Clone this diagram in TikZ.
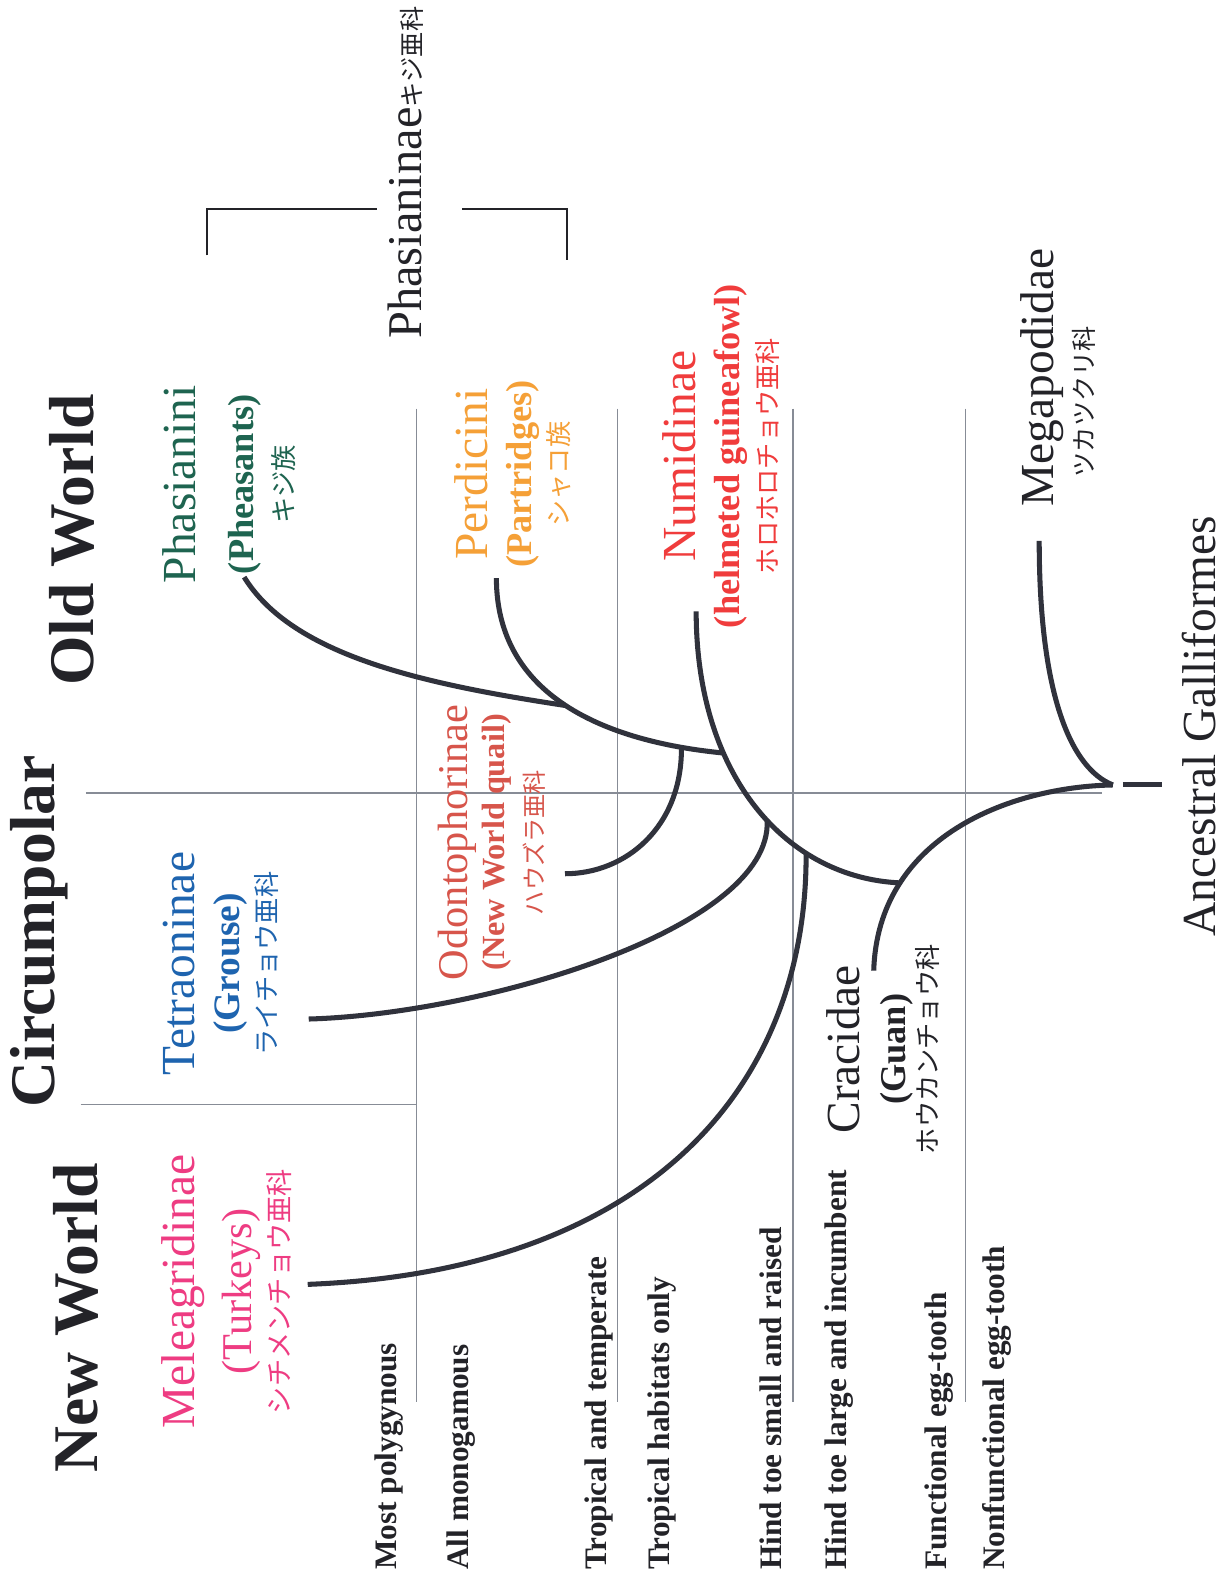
\documentclass[tikz,border=0pt]{standalone}
\usepackage{fontspec}
\setmainfont{Liberation Serif}
\newfontfamily\jp{Noto Sans CJK JP}
\usepackage{tikz}
\usetikzlibrary{positioning}
\definecolor{GalInk}{RGB}{35, 35, 40}
\definecolor{GalBranch}{RGB}{48, 50, 60}
\definecolor{GalGrid}{RGB}{135, 140, 150}
\definecolor{GalPheasant}{RGB}{30, 100, 80}
\definecolor{GalPartridge}{RGB}{245, 160, 55}
\definecolor{GalGuinea}{RGB}{240, 60, 60}
\definecolor{GalQuail}{RGB}{215, 85, 75}
\definecolor{GalGrouse}{RGB}{30, 100, 175}
\definecolor{GalTurkey}{RGB}{238, 60, 130}

\tikzset{
  branch/.style={GalBranch, line width=5pt},
  gridline/.style={GalGrid, line width=1.4pt},
  bracket/.style={GalInk, line width=1.4pt},
  heading/.style={rotate=90, anchor=base, inner sep=0pt, text=GalInk,
    font=\fontsize{63}{63}\selectfont\bfseries},
  % lines are smashed: north = first baseline, gap = 12pt + extra
  taxon/.style={rotate=90, anchor=north, align=center, inner sep=0pt,
    font=\fontsize{10}{12}\selectfont},
  single/.style={rotate=90, anchor=base, inner sep=0pt, text=GalInk,
    font=\fontsize{47}{47}\selectfont},
  trait/.style={rotate=90, anchor=base west, inner sep=0pt, text=GalInk,
    font=\fontsize{31}{31}\selectfont\bfseries}
}

\begin{document}
\begin{tikzpicture}[x=1pt,y=-1pt]
  \path[use as bounding box] (0,0) rectangle (1214,1568);
  \fill[white] (0,0) rectangle (1214,1568);

  % grid of traits and regions
  \draw[gridline] (85,786) -- (1092,786);
  \draw[gridline] (80,1095) -- (413,1095);
  \foreach \x in {413,612,786,957}{
    \draw[gridline] (\x,405) -- (\x,1390);
  }

  % Phasianinae bracket
  \draw[bracket] (205,253) -- (205,207) -- (374,207);
  \draw[bracket] (458,207) -- (562,207) -- (562,258);
  \node[rotate=90, anchor=base west, inner sep=0pt, text=GalInk] (phasianinae) at (418,336)
    {\fontsize{48}{48}\selectfont Phasianinae{\jp\fontsize{25}{25}\selectfont キジ亜科}};

  % regions
  \node[heading] (newWorld) at (97,1306) {New World};
  \node[heading] (circumpolar) at (54,923) {Circumpolar};
  \node[heading] (oldWorld) at (93,535) {Old World};

  % taxa
  \node[taxon, text=GalPheasant] (phasianini) at (194,480) {\smash{\fontsize{47}{47}\selectfont Phasianini}\\[45pt]\smash{\fontsize{36}{36}\selectfont\bfseries (Pheasants)}\\[28pt]\smash{\jp\fontsize{26}{26}\selectfont キジ族}};
  \node[taxon, text=GalPartridge] (perdicini) at (483,470) {\smash{\fontsize{47}{47}\selectfont Perdicini}\\[32pt]\smash{\fontsize{36}{36}\selectfont\bfseries (Partridges)}\\[24pt]\smash{\jp\fontsize{26}{26}\selectfont シャコ族}};
  \node[taxon, text=GalGuinea] (numidinae) at (689,452) {\smash{\fontsize{47}{47}\selectfont Numidinae}\\[32pt]\smash{\fontsize{36}{36}\selectfont\bfseries (helmeted guineafowl)}\\[25pt]\smash{\jp\fontsize{26}{26}\selectfont ホロホロチョウ亜科}};
  \node[taxon, text=GalQuail] (odontophorinae) at (463,835) {\smash{\fontsize{42}{42}\selectfont Odontophorinae}\\[25pt]\smash{\fontsize{32}{32}\selectfont\bfseries (New World quail)}\\[26pt]\smash{\jp\fontsize{24}{24}\selectfont ハウズラ亜科}};
  \node[taxon, text=GalGrouse] (tetraoninae) at (193,955) {\smash{\fontsize{47}{47}\selectfont Tetraoninae}\\[32pt]\smash{\fontsize{37}{37}\selectfont\bfseries (Grouse)}\\[25pt]\smash{\jp\fontsize{26}{26}\selectfont ライチョウ亜科}};
  \node[taxon, text=GalTurkey] (meleagridinae) at (193,1280) {\smash{\fontsize{47}{47}\selectfont Meleagridinae}\\[44pt]\smash{\fontsize{42}{42}\selectfont (Turkeys)}\\[26pt]\smash{\jp\fontsize{27}{27}\selectfont シチメンチョウ亜科}};
  \node[taxon, text=GalInk] (cracidae) at (852,1040) {\smash{\fontsize{47}{47}\selectfont Cracidae}\\[33pt]\smash{\fontsize{36}{36}\selectfont\bfseries (Guan)}\\[20pt]\smash{\jp\fontsize{26}{26}\selectfont ホウカンチョウ科}};
  \node[single] (megapodidae) at (1044,374) {Megapodidae};
  \node[single, font=\jp\fontsize{25}{25}\selectfont] (megapodidaeJp) at (1084,398) {ツカツクリ科};
  \node[single] (ancestral) at (1205,720) {Ancestral Galliformes};

  % traits
  \foreach \x/\name/\txt in {393/polygyn/Most polygynous, 464/monogam/All monogamous,
      601/tropTemp/Tropical and temperate, 664/tropOnly/Tropical habitats only,
      775/toeSmall/Hind toe small and raised, 839/toeLarge/Hind toe large and incumbent,
      938/eggFunc/Functional egg-tooth, 996/eggNon/Nonfunctional egg-tooth}{
    \node[trait] (\name) at (\x,1556) {\txt};
  }

  % tree
  \coordinate (root) at (1103,778);
  \coordinate (stubL) at (1113,778);
  \coordinate (stubR) at (1152,778);
  \coordinate (megaTip) at (1030,536);
  \coordinate (cracTip) at (866,962);
  \coordinate (numiTip) at (690,606);
  \coordinate (perdTip) at (492,573);
  \coordinate (phasTip) at (242,572);
  \coordinate (odonTip) at (560,866);
  \coordinate (tetrTip) at (306,1010);
  \coordinate (meleTip) at (305,1273);

  \draw[branch] (stubL) -- (stubR);
  \draw[branch] (megaTip) .. controls (1030,690) and (1062,762) .. (root);
  \draw[branch] (root) .. controls (1000,780) and (870,830) .. coordinate[pos=0.74] (jCrac) (cracTip);
  \draw[branch] (numiTip) .. controls (690,770) and (780,870) .. coordinate[pos=0.33] (jPhs) coordinate[pos=0.55] (jTetr) coordinate[pos=0.70] (jMele) (jCrac);
  \draw[branch] (perdTip) .. controls (492,690) and (600,735) .. coordinate[pos=0.5] (jPerd) coordinate[pos=0.88] (jOdon) (jPhs);
  \draw[branch] (phasTip) .. controls (290,650) and (420,678) .. (jPerd);
  \draw[branch] (jOdon) .. controls (676,820) and (620,866) .. (odonTip);
  \draw[branch] (jTetr) .. controls (765,920) and (480,1005) .. (tetrTip);
  \draw[branch] (jMele) .. controls (800,1080) and (640,1260) .. (meleTip);
\end{tikzpicture}
\end{document}
